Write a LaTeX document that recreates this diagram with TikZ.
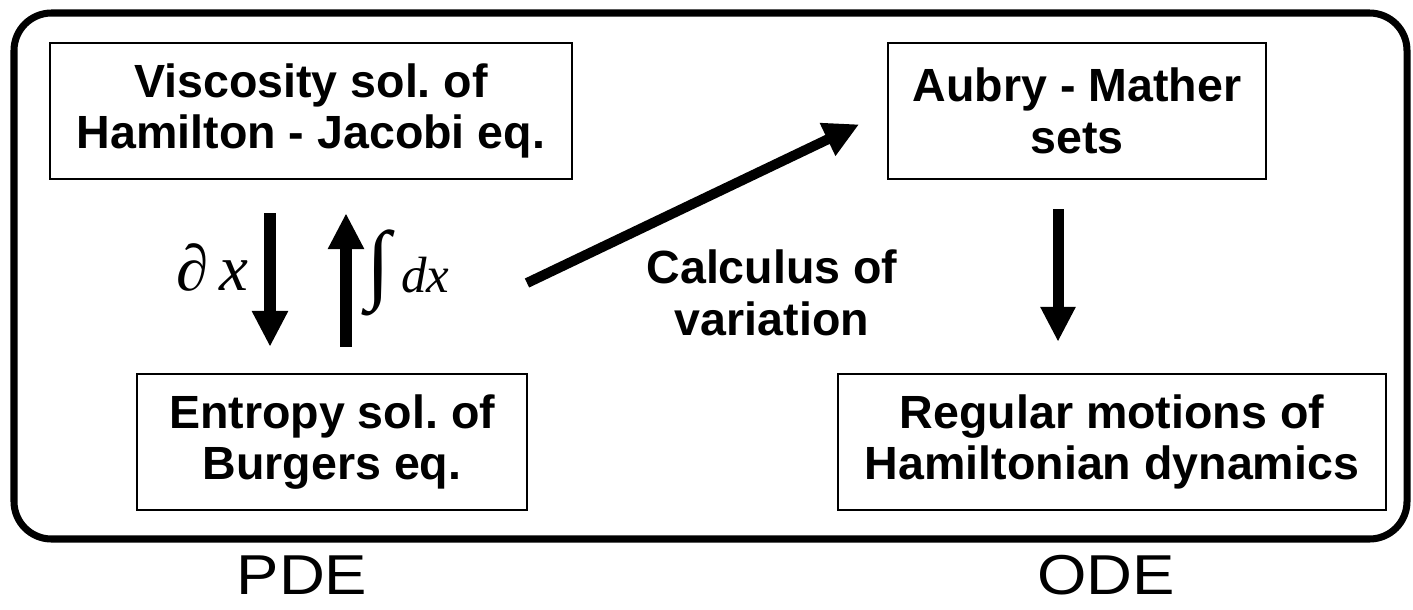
\documentclass[tikz,border=0pt]{standalone}
\usepackage{fontspec}
\setmainfont{Liberation Sans}
\newfontfamily\serifit{Liberation Serif}
\newfontfamily\widesans[FakeStretch=1.13]{Liberation Sans}
\usetikzlibrary{arrows.meta}
\frenchspacing

\begin{document}
\begin{tikzpicture}[
    x=0.02cm, y=-0.02cm, % 像素坐标, y 向下
    box/.style={draw, line width=1.1pt, align=center, inner sep=0pt,
        minimum height=2.73cm, font=\bfseries\fontsize{26.5}{29.5}\selectfont},
    bigarrow/.style={line width=0.23cm, -{Triangle[width=0.68cm, length=0.72cm]}},
    mathlbl/.style={inner sep=0pt, font=\serifit\itshape\fontsize{37}{40}\selectfont},
    sidelbl/.style={inner sep=0pt, font=\widesans\fontsize{32}{35}\selectfont}
]
    \useasboundingbox (0,0) rectangle (1413,609);

    % 外框
    \draw[line width=4pt, rounded corners=0.75cm] (14,13) rectangle (1407,539);

    % 四个方框：名字/位置/宽度/文字
    \foreach \nm/\x/\y/\w/\txt in {
        visc/311/111/10.44/{Viscosity sol. of\\Hamilton - Jacobi eq.},
        aubry/1077/111/7.56/{Aubry - Mather\\sets},
        entropy/332/442/7.8/{Entropy sol. of\\ Burgers eq.},
        regular/1112/442/10.96/{Regular motions of\\Hamiltonian dynamics}} {
        \node[box, minimum width=\w cm] (\nm) at (\x,\y) {\txt};
    }

    % 箭头所在的列
    \coordinate (dcol) at (270,0);
    \coordinate (icol) at (346,0);
    \coordinate (rcol) at (1058,0);
    \coordinate (cvtail) at (527,283);

    % 左边：求导 / 积分
    \draw[bigarrow, shorten <=0.66cm, shorten >=0.52cm] (visc.south -| dcol) -- (entropy.north -| dcol);
    \draw[bigarrow, shorten <=0.52cm, shorten >=0.66cm] (entropy.north -| icol) -- (visc.south -| icol);
    \node[mathlbl, anchor=base east] (dlab) at (249,290) {∂\,x};
    \node[mathlbl, anchor=base west] (ilab) at (366,292) {{\fontsize{50}{50}\selectfont ∫}\,{\fontsize{29}{32}\selectfont dx}};

    % 变分法
    \draw[line width=0.2cm, -{Triangle[width=0.68cm, length=0.7cm]}, shorten >=0.62cm] (cvtail) -- (aubry.west);
    \node[align=center, inner sep=0pt, font=\bfseries\fontsize{26.5}{29.5}\selectfont] (calc) at (772,293) {Calculus of\\variation};

    % 右边
    \draw[line width=0.22cm, -{Triangle[width=0.66cm, length=0.7cm]}, shorten <=0.58cm, shorten >=0.62cm]
        (aubry.south -| rcol) -- (regular.north -| rcol);

    % 底部标签
    \node[sidelbl, anchor=base] (pde) at (302,594) {PDE};
    \node[sidelbl, anchor=base] (ode) at (1106,594) {ODE};
\end{tikzpicture}
\end{document}
